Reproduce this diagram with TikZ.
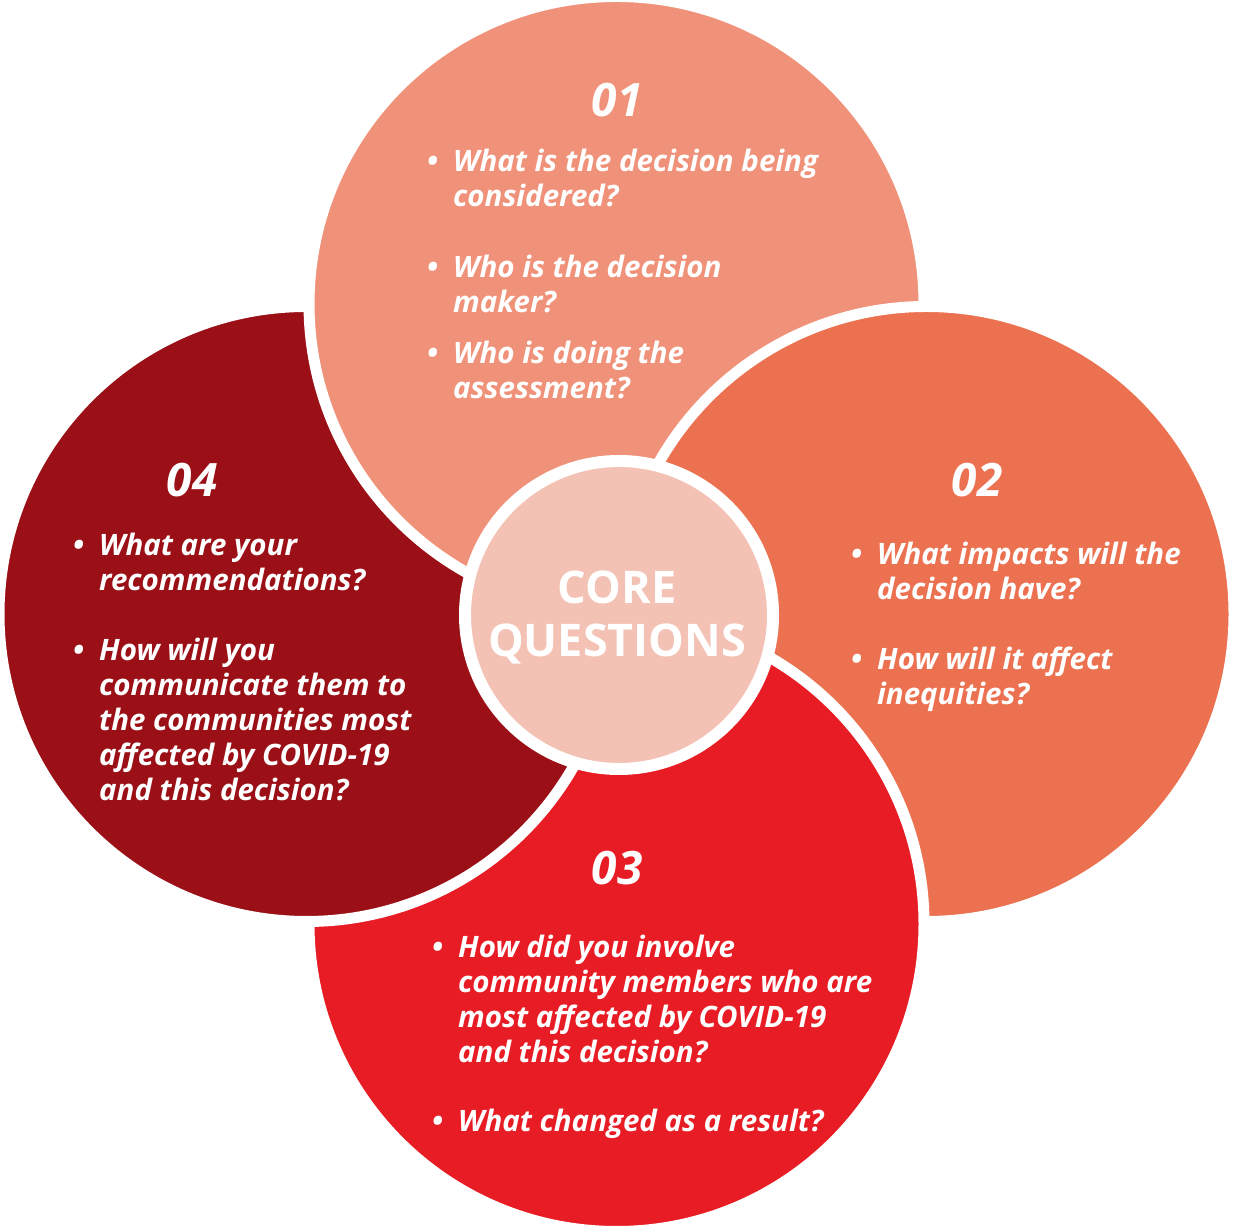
\documentclass[tikz,border=0pt]{standalone}
\usepackage{fontspec}
\setmainfont{Open Sans}
\usetikzlibrary{calc}
\definecolor{cA}{RGB}{240,146,122}
\definecolor{cB}{RGB}{236,113,80}
\definecolor{cC}{RGB}{232,28,36}
\definecolor{cD}{RGB}{155,16,23}
\definecolor{cCore}{RGB}{243,194,180}
\newcommand{\pr}{307.5}
\newcommand{\pc}{434.87}
% petal: circle with one square quadrant; #1 centre, #2 corner direction, #3 colour
\newcommand{\petal}[3]{%
  \filldraw[petal, fill=#3] (#1) ++(#2+45:\pr) arc[start angle=#2+45, delta angle=270, radius=\pr]
    -- ($(#1)+(#2:\pc)$) -- cycle;}
\newcommand{\qtext}[1]{\parbox[t]{460pt}{\hangindent=26pt\hangafter=1\noindent\makebox[26pt][l]{\textbullet}#1}}
\tikzset{
  petal/.style={draw=white, line width=11pt},
  qitem/.style={anchor=base west, inner sep=0pt, text=white,
    font=\fontsize{29.5}{35}\selectfont\bfseries\itshape},
  qnum/.style={anchor=base, inner sep=0pt, text=white,
    font=\fontsize{46}{50}\selectfont\bfseries\itshape},
}
\begin{document}
\begin{tikzpicture}[x=1pt, y=1pt]
\useasboundingbox (0,0) rectangle (1234,1228);
\fill[white] (0,0) rectangle (1234,1228);
\coordinate (c1) at (616.5,924);
\coordinate (c2) at (926.5,614);
\coordinate (c3) at (616.5,304);
\coordinate (c4) at (306.5,614);
\coordinate (cc) at (619,613);
% petals, cyclic overlap
\petal{c4}{45}{cD}
\petal{c1}{-45}{cA}
\petal{c2}{-135}{cB}
\petal{c3}{135}{cC}
\begin{scope}
  \clip (0,0) rectangle (1234,625);
  \petal{c4}{45}{cD}
\end{scope}
% centre circle
\filldraw[fill=cCore, draw=white, line width=12pt] (cc) circle[radius=154];
\node[anchor=base, inner sep=0pt, text=white, font=\fontsize{45}{53}\selectfont\bfseries] (core) at (617,624)
  {\parbox[t]{320pt}{\centering CORE\\QUESTIONS}};
% numbers
\node[qnum] (n1) at (617,1111) {01};
\node[qnum] (n2) at (977,731) {02};
\node[qnum] (n3) at (617,343) {03};
\node[qnum] (n4) at (192,731) {04};
% 01
\node[qitem] (q1a) at (427,1056) {\qtext{What is the decision being\\considered?}};
\node[qitem] (q1b) at (427,950) {\qtext{Who is the decision\\maker?}};
\node[qitem] (q1c) at (427,864) {\qtext{Who is doing the\\assessment?}};
% 02
\node[qitem] (q2a) at (851,663) {\qtext{What impacts will the\\decision have?}};
\node[qitem] (q2b) at (851,558) {\qtext{How will it affect\\inequities?}};
% 03
\node[qitem] (q3a) at (432,270) {\qtext{How did you involve\\community members who are\\most affected by COVID-19\\and this decision?}};
\node[qitem] (q3b) at (432,96) {\qtext{What changed as a result?}};
% 04
\node[qitem] (q4a) at (73,672) {\qtext{What are your\\recommendations?}};
\node[qitem] (q4b) at (73,567) {\qtext{How will you\\communicate them to\\the communities most\\affected by COVID-19\\and this decision?}};
\end{tikzpicture}
\end{document}
